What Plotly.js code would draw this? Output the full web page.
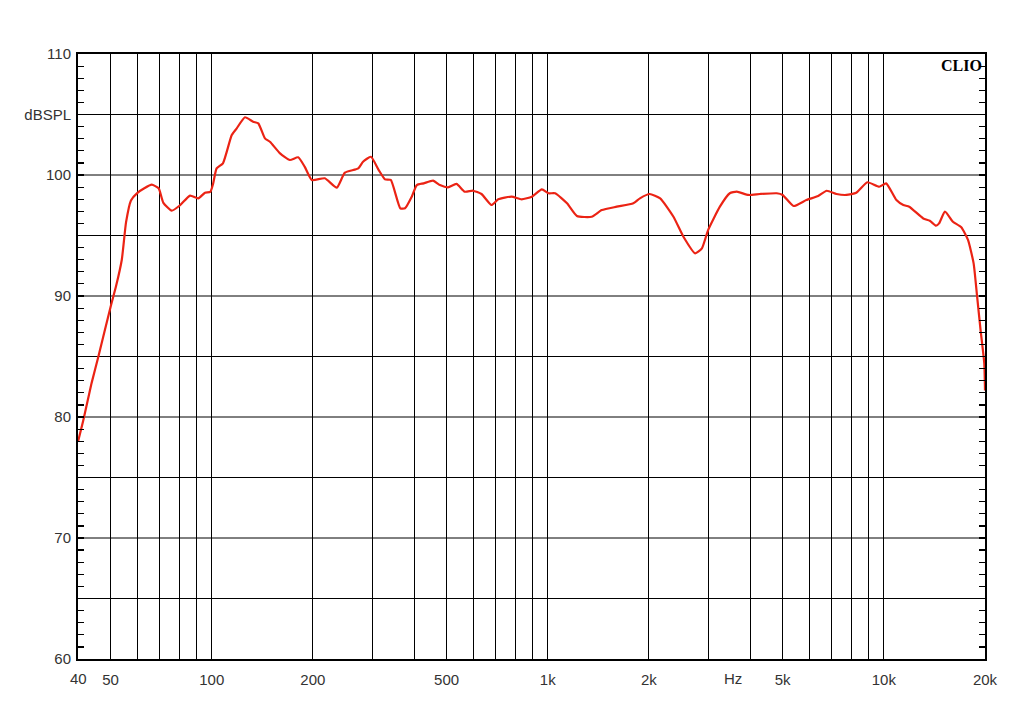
<!DOCTYPE html>
<html>
<head>
<meta charset="utf-8">
<script src="https://cdn.plot.ly/plotly-3.0.1.min.js"></script>
<style>html,body{margin:0;padding:0;background:#fff}#chart{width:1024px;height:724px}</style>
</head>
<body>
<div id="chart"></div>
<script>
const freqHz = [40,41.5,43.9,46.0,50.0,51.9,54.0,55.6,57.5,60,63,66.3,69.5,71.8,76,80.5,86.2,91.2,95.5,99,101,103.4,108,114.7,118.7,125.6,132.8,137.6,144,149,159.7,170.8,180.8,189,198.5,217,235.6,249,273,282,297.6,314,327.8,341,364,376,393.7,407.6,427,455.7,477.6,505,535,566,599,635,680,712,780,836,896,960,1005,1052,1141,1221,1351,1448,1604,1797,1880,2010,2160,2366,2533,2745,2875,3000,3252,3480,3650,3957,4280,4800,5000,5390,5880,6376,6760,7230,7740,8280,8930,9690,10160,10900,11430,11900,13100,13700,14300,14600,15200,16050,17000,17800,18500,18950,19400,19900,20000];
const splDb = [77.96,79.75,82.8,85.0,89.1,90.8,93.0,96.1,97.9,98.5,98.9,99.2,98.9,97.7,97.05,97.5,98.3,98.07,98.54,98.6,99.3,100.55,100.97,103.3,103.86,104.77,104.4,104.27,103.03,102.75,101.79,101.24,101.46,100.69,99.59,99.73,98.95,100.19,100.55,101.1,101.51,100.41,99.64,99.59,97.25,97.25,98.21,99.17,99.31,99.53,99.17,98.98,99.26,98.62,98.7,98.43,97.52,97.99,98.21,97.99,98.21,98.82,98.49,98.49,97.66,96.61,96.55,97.1,97.38,97.66,98.07,98.43,98.07,96.55,94.9,93.53,93.94,95.45,97.38,98.49,98.62,98.35,98.43,98.49,98.35,97.44,97.93,98.26,98.7,98.43,98.35,98.54,99.4,99.03,99.31,97.93,97.52,97.38,96.41,96.22,95.81,96.0,96.97,96.14,95.68,94.63,92.7,89.94,87.2,84.44,82.2];

const xTickVals = [50,60,70,80,90,100,200,300,400,500,600,700,800,900,1000,2000,3000,4000,5000,6000,7000,8000,9000,10000,20000];
const xTickText = ['50','','','','','100','200','','','500','','','','','1k','2k','','','5k','','','','','10k','20k'];
const yTickVals = [60,65,70,75,80,85,90,95,100,105,110];
const yTickText = ['60','','70','','80','','90','','100','dBSPL','110'];
const yMinorVals = [];
for (let v = 60; v <= 110; v++) yMinorVals.push(v);

const tickFont = {family:'Liberation Sans, Arial, sans-serif', size:15, color:'#333'};

Plotly.newPlot('chart', [
  {
    x: freqHz, y: splDb, type:'scatter', mode:'lines',
    line:{color:'rgb(235,35,20)', width:2.2, shape:'spline', smoothing:0.5},
    hoverinfo:'skip', showlegend:false
  }
], {
  width:1024, height:724,
  margin:{l:78, r:39, t:54, b:65},
  paper_bgcolor:'#fff', plot_bgcolor:'#fff',
  xaxis:{
    type:'log', range:[Math.log10(40), Math.log10(20000)],
    tickmode:'array', tickvals:xTickVals, ticktext:xTickText,
    showgrid:true, gridcolor:'#000', gridwidth:1,
    showline:true, linecolor:'#000', linewidth:2, mirror:true,
    ticks:'', ticklabelstandoff:6, tickfont:tickFont, zeroline:false, fixedrange:true
  },
  yaxis:{
    range:[60,110], tickmode:'array', tickvals:yMinorVals,
    ticktext: yMinorVals.map(v => { const i = yTickVals.indexOf(v); return i >= 0 ? yTickText[i] : ''; }),
    showgrid:false,
    showline:true, linecolor:'#000', linewidth:2, mirror:'ticks',
    ticks:'inside', ticklen:6, tickwidth:1.2, tickcolor:'#000',
    ticklabelstandoff:2,
    tickfont:tickFont, zeroline:false, fixedrange:true
  },
  shapes: yTickVals.slice(1, -1).map(v => ({
    type:'line', xref:'paper', yref:'y', x0:0, x1:1, y0:v, y1:v,
    line:{color:'#000', width:1}, layer:'below'
  })),
  annotations:[
    {xref:'paper', yref:'paper', x:0, y:0, xanchor:'center', yanchor:'top', yshift:-9, text:'40', showarrow:false, font:tickFont},
    {xref:'paper', yref:'paper', x:(733-78)/907, y:0, xanchor:'center', yanchor:'top', yshift:-9, text:'Hz', showarrow:false, font:tickFont},
    {xref:'paper', yref:'paper', x:1, y:1, xanchor:'right', yanchor:'top', xshift:-1, yshift:-1, text:'<b>CLIO</b>', showarrow:false, font:{family:'Liberation Serif, Times New Roman, serif', size:16, color:'#000'}}
  ]
}, {staticPlot:true});
</script>
</body>
</html>
